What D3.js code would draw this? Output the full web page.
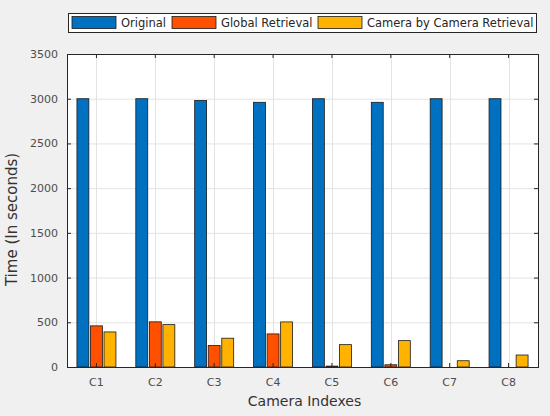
<!DOCTYPE html>
<html>
<head>
<meta charset="utf-8">
<script src="https://cdn.jsdelivr.net/npm/d3@7"></script>
<style>
  html, body { margin: 0; padding: 0; background: #f0f0f0; }
  svg { display: block; font-family: 'DejaVu Sans', sans-serif; }
</style>
</head>
<body>
<div id="chart"></div>
<script>
const categories = ['C1', 'C2', 'C3', 'C4', 'C5', 'C6', 'C7', 'C8'];
const seriesNames = ['Original', 'Global Retrieval', 'Camera by Camera Retrieval'];
const original = [3000, 3000, 2980, 2960, 3000, 2960, 3000, 3000];
const globalRetrieval = [460, 505, 240, 370, 10, 25, 0, 0];
const cameraRetrieval = [392, 474, 322, 504, 250, 295, 70, 134];
const yTicks = [0, 500, 1000, 1500, 2000, 2500, 3000, 3500];
const colors = ['#0070c0', '#ff5000', '#ffb200'];

const width = 550;
const height = 416;
const margin = { top: 54, right: 12, bottom: 49, left: 67 };
const innerW = width - margin.left - margin.right;
const innerH = height - margin.top - margin.bottom;

const svg = d3
  .select('#chart')
  .append('svg')
  .attr('width', width)
  .attr('height', height);

svg.append('rect').attr('width', width).attr('height', height).attr('fill', '#f0f0f0');

const g = svg.append('g').attr('transform', `translate(${margin.left},${margin.top})`);

const x = d3.scaleBand().domain(categories).range([0, innerW]);
const y = d3.scaleLinear().domain([0, 3500]).range([innerH, 0]);
const xs = d3.scaleBand().domain(seriesNames).range([-19.5, 19.5]).paddingInner(0.12);

g.append('rect').attr('width', innerW).attr('height', innerH).attr('fill', '#fff');

// grid
g.append('g')
  .selectAll('line')
  .data(yTicks.slice(1, -1))
  .join('line')
  .attr('x1', 0)
  .attr('x2', innerW)
  .attr('y1', (d) => y(d) + 0.5)
  .attr('y2', (d) => y(d) + 0.5)
  .attr('stroke', '#e3e3e3');
g.append('g')
  .selectAll('line')
  .data(categories)
  .join('line')
  .attr('x1', (d) => Math.round(x(d) + x.bandwidth() / 2) + 0.5)
  .attr('x2', (d) => Math.round(x(d) + x.bandwidth() / 2) + 0.5)
  .attr('y1', 0)
  .attr('y2', innerH)
  .attr('stroke', '#e3e3e3');

// bars
const rows = categories.map((c, i) => ({
  cat: c,
  vals: [original[i], globalRetrieval[i], cameraRetrieval[i]],
}));
const groups = g
  .selectAll('.grp')
  .data(rows)
  .join('g')
  .attr('transform', (d) => `translate(${x(d.cat) + x.bandwidth() / 2},0)`);
groups
  .selectAll('rect')
  .data((d) => d.vals.map((v, k) => ({ v, k })))
  .join('rect')
  .attr('x', (d) => xs(seriesNames[d.k]))
  .attr('width', xs.bandwidth())
  .attr('y', (d) => y(d.v))
  .attr('height', (d) => innerH - y(d.v))
  .attr('fill', (d) => colors[d.k])
  .attr('stroke', '#1a1a1a')
  .attr('stroke-width', 0.8);

// axes
const yAxis = g.append('g').call(
  d3.axisLeft(y).tickValues(yTicks).tickSize(-4).tickPadding(9).tickFormat(d3.format('d'))
);
const yAxisR = g
  .append('g')
  .attr('transform', `translate(${innerW},0)`)
  .call(d3.axisRight(y).tickValues(yTicks).tickSize(-4).tickFormat(''));
const xAxis = g
  .append('g')
  .attr('transform', `translate(0,${innerH})`)
  .call(d3.axisBottom(x).tickSize(-4).tickPadding(11));
const xAxisT = g.append('g').call(d3.axisTop(x).tickSize(-4).tickFormat(''));

[yAxis, yAxisR, xAxis, xAxisT].forEach((a) => {
  a.select('.domain').attr('stroke', '#262626');
  a.selectAll('.tick line').attr('stroke', '#262626');
  a.selectAll('text').attr('fill', '#4d4d4d').attr('font-size', 11).attr('font-family', 'DejaVu Sans, sans-serif');
});
yAxis.select('.domain').attr('d', `M0.5,${innerH}V0`);

g.append('text')
  .attr('x', innerW / 2 + 2)
  .attr('y', innerH + 39)
  .attr('text-anchor', 'middle')
  .attr('font-size', 14)
  .attr('fill', '#333')
  .text('Camera Indexes');
g.append('text')
  .attr('transform', `translate(-50,${innerH / 2 + 9}) rotate(-90)`)
  .attr('text-anchor', 'middle')
  .attr('font-size', 15)
  .attr('fill', '#333')
  .text('Time (In seconds)');

// legend
const legend = svg.append('g').attr('transform', 'translate(68,13)');
legend.append('rect').attr('x', 0.5).attr('y', 0.5).attr('width', 468).attr('height', 19)
  .attr('fill', '#fff').attr('stroke', '#262626');
const legendX = [4, 104, 250];
seriesNames.forEach((name, k) => {
  legend.append('rect')
    .attr('x', legendX[k]).attr('y', 3.5).attr('width', 44).attr('height', 12)
    .attr('fill', colors[k]).attr('stroke', '#1a1a1a').attr('stroke-width', 0.8);
  legend.append('text')
    .attr('x', legendX[k] + 49).attr('y', 14)
    .attr('font-size', 11.5).attr('fill', '#262626')
    .text(name);
});
</script>
</body>
</html>
